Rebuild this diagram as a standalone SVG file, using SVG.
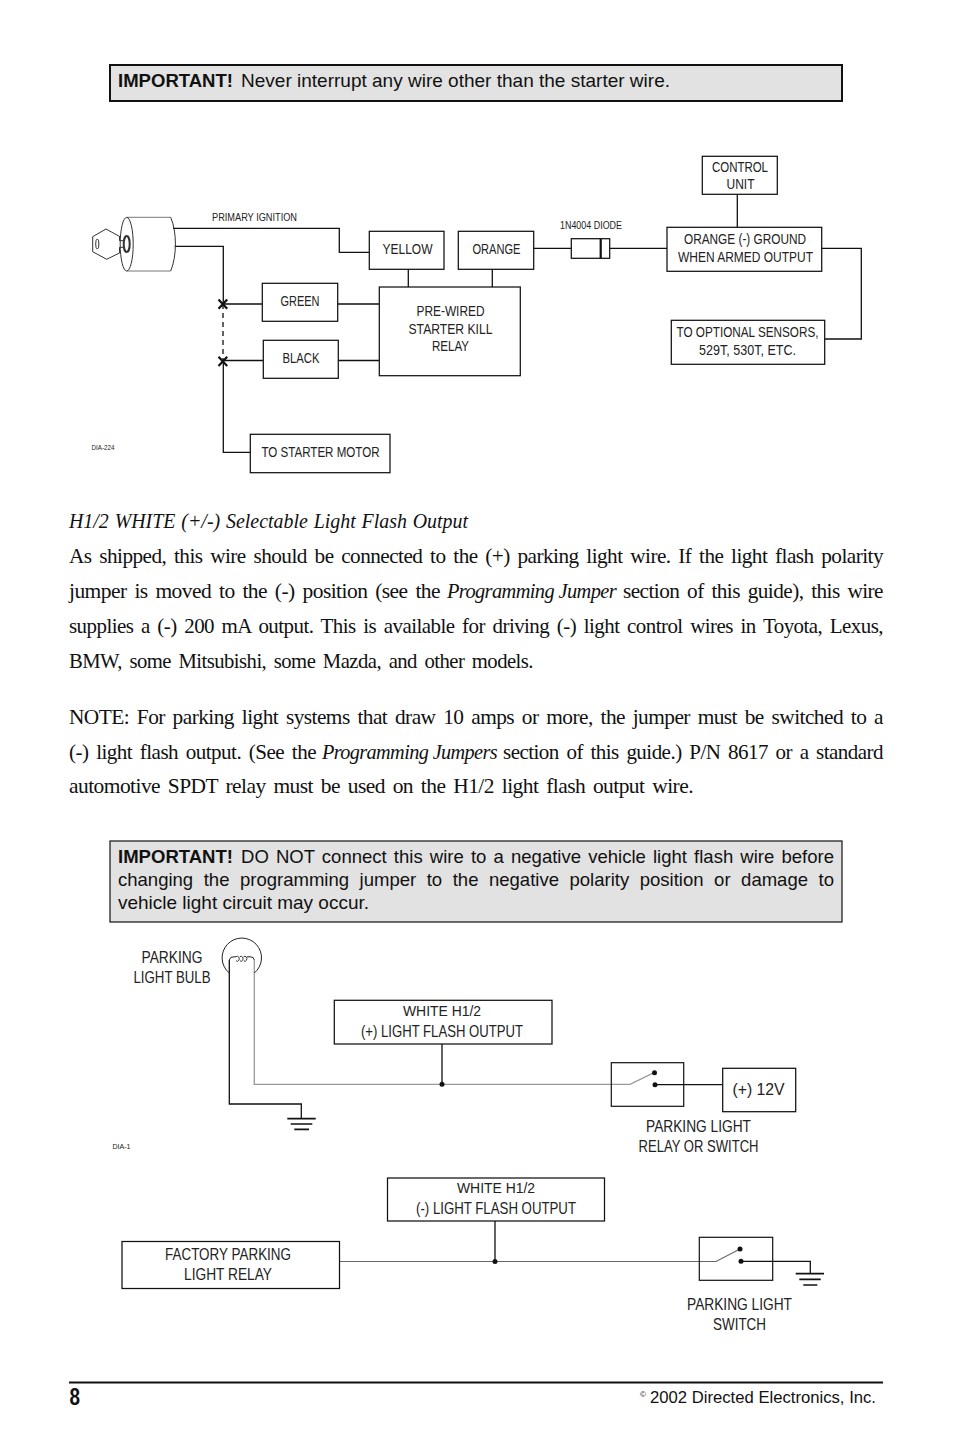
<svg xmlns="http://www.w3.org/2000/svg" width="954" height="1450" viewBox="0 0 954 1450">
<style>
.b{fill:#fff;stroke:#111;stroke-width:1.25}
.w{fill:none;stroke:#111;stroke-width:1.3}
.g{fill:none;stroke:#9a9a9a;stroke-width:1.3}
.g2{fill:none;stroke:#666;stroke-width:1.1}
.t{font-family:"Liberation Sans",Arial,sans-serif;font-size:14.5px;fill:#222;text-anchor:middle}
.l{font-size:16.5px}
.s{font-family:"Liberation Sans",Arial,sans-serif;font-size:10px;fill:#222}
.p{font-family:"Liberation Serif","Times New Roman",serif;font-size:21.5px;fill:#111;letter-spacing:-.55px;word-spacing:3px}
.q{font-family:"Liberation Serif","Times New Roman",serif;font-size:21.5px;fill:#111;font-style:italic;letter-spacing:-.65px}
.i{font-family:"Liberation Sans",Arial,sans-serif;font-size:18.5px;fill:#111}
.m{fill:#e2e2e2;stroke:#111;stroke-width:1.2}
.n{fill:#e2e2e2;stroke:#111;stroke-width:2}
.d{fill:#111}
</style>
<rect width="954" height="1450" fill="#fff"/>
<g id="note-top">
<rect class="n" x="110" y="65" width="732" height="36"/>
<text class="i" x="118" y="87" textLength="115" lengthAdjust="spacingAndGlyphs" font-weight="700">IMPORTANT!</text>
<text class="i" x="241" y="87" textLength="429" lengthAdjust="spacingAndGlyphs">Never interrupt any wire other than the starter wire.</text>
</g>
<g id="connectors">
<path class="w" d="M173 228.3H339.3V252.3H369.3"/>
<path class="w" d="M174.7 246.3H223.3V304"/>
<path class="w" d="M223 304V361.3" stroke-dasharray="5 4"/>
<path class="w" d="M223.3 361.3V452.3H250.3"/>
<path class="w" d="M223.3 304H262.3M337.7 304H379.3M223.3 360.500H263.3M338.3 360.500H379.3"/>
<path class="w" d="M408.3 269.3V287M492.3 269.3V287M533.7 248.3H571.3M609.7 248.3H667M737.3 194.3V227.3"/>
<path class="w" d="M821.7 248.3H861.3V339H824.7"/>
<path d="M218.500 299.500L227.200 308.700M227.200 299.500L218.500 308.700M218.500 356.800L227.200 366M227.200 356.800L218.500 366" fill="none" stroke="#111" stroke-width="2.2"/>
<path class="w" d="M229.3 960V1104H301.3V1118.7"/>
<path d="M287.3 1118.7H315.7M290.7 1124H312.3M294.3 1129.3H309" fill="none" stroke="#111" stroke-width="1.7"/>
<path class="g" d="M254.3 960V1084.3H630L654 1072.7"/>
<path class="w" d="M442 1044V1084.3M655 1084.7H722.7"/>
<circle class="d" cx="442" cy="1084.3" r="2.5"/>
<circle class="d" cx="654.5" cy="1072.7" r="2.5"/>
<circle class="d" cx="655" cy="1084.7" r="2.5"/>
<path class="g2" d="M339.5 1261.5H716L740 1249"/>
<path class="w" d="M495 1221V1261.5M741 1261.3H810.3V1273.7"/>
<path d="M795.7 1273.7H824M799.3 1279.3H820.7M803.3 1285H817.3" fill="none" stroke="#111" stroke-width="1.7"/>
<circle class="d" cx="495" cy="1261.5" r="2.5"/>
<circle class="d" cx="740" cy="1249" r="2.5"/>
<circle class="d" cx="741" cy="1261.3" r="2.5"/>
</g>
<g id="ignition-switch">
<path d="M126.7 217.3H170.7M126.7 271H170.7" fill="none" stroke="#777" stroke-width="1"/>
<path d="M170.7 217.3C177 232 177 256 170.7 271" fill="none" stroke="#333" stroke-width="1"/>
<ellipse cx="126.7" cy="244.2" rx="6.5" ry="26.8" fill="#fff" stroke="#333" stroke-width="1"/>
<path d="M120 236.7L106 229L92.700 236.7V251.7L106.7 259.3L120 252.700M119.500 240.700H126M119.500 247.300H126M119.500 236.700V240.700M119.500 247.300V252.700" fill="none" stroke="#333" stroke-width="1"/>
<ellipse cx="126.7" cy="244" rx="3" ry="8" fill="#fff" stroke="#333" stroke-width="2"/>
<ellipse cx="97.3" cy="244" rx="1.6" ry="5" fill="none" stroke="#333" stroke-width="1"/>
<text class="s" x="212" y="221" textLength="85" lengthAdjust="spacingAndGlyphs">PRIMARY IGNITION</text>
</g>
<g id="yellow"><rect class="b" x="369.3" y="231.3" width="74.7" height="38"/><text class="t" x="407.5" y="253.5" textLength="50" lengthAdjust="spacingAndGlyphs">YELLOW</text></g>
<g id="orange"><rect class="b" x="458.3" y="231.3" width="75.4" height="38"/><text class="t" x="496.5" y="253.5" textLength="48" lengthAdjust="spacingAndGlyphs">ORANGE</text></g>
<g id="green"><rect class="b" x="262.3" y="283.3" width="75.4" height="38"/><text class="t" x="300" y="305.5" textLength="39" lengthAdjust="spacingAndGlyphs">GREEN</text></g>
<g id="black"><rect class="b" x="263.3" y="340.3" width="75" height="38"/><text class="t" x="301" y="363" textLength="37" lengthAdjust="spacingAndGlyphs">BLACK</text></g>
<g id="relay"><rect class="b" x="379.3" y="287" width="141" height="88.7"/>
<text class="t" x="450.5" y="316" textLength="68" lengthAdjust="spacingAndGlyphs">PRE-WIRED</text>
<text class="t" x="450.5" y="333.5" textLength="84" lengthAdjust="spacingAndGlyphs">STARTER KILL</text>
<text class="t" x="450.5" y="351" textLength="37" lengthAdjust="spacingAndGlyphs">RELAY</text></g>
<g id="starter-motor"><rect class="b" x="250.3" y="434.3" width="139.7" height="38.4"/><text class="t" x="320.5" y="457" textLength="118" lengthAdjust="spacingAndGlyphs">TO STARTER MOTOR</text></g>
<g id="diode"><rect class="b" x="571.3" y="238.7" width="38.4" height="19.6"/><path d="M600.7 238.7V258.3" stroke="#111" stroke-width="2.2"/>
<text class="s" x="560" y="229" textLength="62" lengthAdjust="spacingAndGlyphs">1N4004 DIODE</text></g>
<g id="control-unit"><rect class="b" x="702.3" y="156.3" width="75" height="38"/>
<text class="t" x="740" y="172" textLength="56" lengthAdjust="spacingAndGlyphs">CONTROL</text>
<text class="t" x="740.5" y="189" textLength="28" lengthAdjust="spacingAndGlyphs">UNIT</text></g>
<g id="armed-output"><rect class="b" x="667" y="227.3" width="154.7" height="44"/>
<text class="t" x="745" y="244" textLength="122" lengthAdjust="spacingAndGlyphs">ORANGE (-) GROUND</text>
<text class="t" x="745.5" y="262" textLength="135" lengthAdjust="spacingAndGlyphs">WHEN ARMED OUTPUT</text></g>
<g id="sensors"><rect class="b" x="671.3" y="320.3" width="153.4" height="44"/>
<text class="t" x="747.5" y="337" textLength="142" lengthAdjust="spacingAndGlyphs">TO OPTIONAL SENSORS,</text>
<text class="t" x="747.5" y="355" textLength="97" lengthAdjust="spacingAndGlyphs">529T, 530T, ETC.</text></g>
<text class="s" x="91.5" y="450" textLength="23" lengthAdjust="spacingAndGlyphs" style="font-size:8px">DIA-224</text>
<g id="body">
<text class="q" x="69" y="528" textLength="399" lengthAdjust="spacingAndGlyphs" style="letter-spacing:0;word-spacing:1px">H1/2 WHITE (+/-) Selectable Light Flash Output</text>
<text class="p" x="69" y="563" textLength="814" lengthAdjust="spacingAndGlyphs">As shipped, this wire should be connected to the (+) parking light wire. If the light flash polarity</text>
<text class="p" x="69" y="598" textLength="371" lengthAdjust="spacingAndGlyphs">jumper is moved to the (-) position (see the</text>
<text class="q" x="447" y="598" textLength="169" lengthAdjust="spacingAndGlyphs">Programming Jumper</text>
<text class="p" x="623" y="598" textLength="260" lengthAdjust="spacingAndGlyphs">section of this guide), this wire</text>
<text class="p" x="69" y="633" textLength="814" lengthAdjust="spacingAndGlyphs">supplies a (-) 200 mA output. This is available for driving (-) light control wires in Toyota, Lexus,</text>
<text class="p" x="69" y="668" textLength="464" lengthAdjust="spacingAndGlyphs">BMW, some Mitsubishi, some Mazda, and other models.</text>
<text class="p" x="69" y="724" textLength="814" lengthAdjust="spacingAndGlyphs">NOTE: For parking light systems that draw 10 amps or more, the jumper must be switched to a</text>
<text class="p" x="69" y="759" textLength="247" lengthAdjust="spacingAndGlyphs">(-) light flash output. (See the</text>
<text class="q" x="322" y="759" textLength="175" lengthAdjust="spacingAndGlyphs">Programming Jumpers</text>
<text class="p" x="503" y="759" textLength="380" lengthAdjust="spacingAndGlyphs">section of this guide.) P/N 8617 or a standard</text>
<text class="p" x="69" y="793" textLength="624" lengthAdjust="spacingAndGlyphs">automotive SPDT relay must be used on the H1/2 light flash output wire.</text>
</g>
<g id="note-mid">
<rect class="m" x="110" y="841" width="732" height="81"/>
<text class="i" x="118" y="863" textLength="115" lengthAdjust="spacingAndGlyphs" font-weight="700">IMPORTANT!</text>
<text class="i" x="241" y="863" textLength="593" lengthAdjust="spacingAndGlyphs" word-spacing="2">DO NOT connect this wire to a negative vehicle light flash wire before</text>
<text class="i" x="118" y="886" textLength="716" lengthAdjust="spacingAndGlyphs" word-spacing="5.4">changing the programming jumper to the negative polarity position or damage to</text>
<text class="i" x="118" y="909" textLength="251" lengthAdjust="spacingAndGlyphs">vehicle light circuit may occur.</text>
</g>
<g id="bulb">
<path d="M229.3 973A19.7 19.7 0 1 1 254.3 973" fill="none" stroke="#222" stroke-width="1"/>
<path d="M229.3 960Q230 956.5 234 956.8H236M247 956.8H250Q254 956.5 254.3 960" fill="none" stroke="#222" stroke-width="1"/>
<path d="M236 956.8a2 2.500 0 1 1 .1 4M239.800 956.800a2 2.500 0 1 1 .1 4M243.600 956.800a2 2.500 0 1 1 .1 4" fill="none" stroke="#222" stroke-width=".9"/>
<text class="t l" x="172" y="963" textLength="61" lengthAdjust="spacingAndGlyphs">PARKING</text>
<text class="t l" x="172" y="983" textLength="77" lengthAdjust="spacingAndGlyphs">LIGHT BULB</text>
</g>
<g id="white-plus"><rect class="b" x="334.3" y="1000.3" width="217.7" height="43.7"/>
<text class="t" x="442" y="1016" textLength="78" lengthAdjust="spacingAndGlyphs" style="font-size:15px">WHITE H1/2</text>
<text class="t l" x="442" y="1037" textLength="162" lengthAdjust="spacingAndGlyphs">(+) LIGHT FLASH OUTPUT</text></g>
<g id="relay-switch"><rect x="611.3" y="1062.7" width="72.4" height="43.6" fill="none" stroke="#111" stroke-width="1.2"/>
<text class="t l" x="698.500" y="1132" textLength="105" lengthAdjust="spacingAndGlyphs">PARKING LIGHT</text>
<text class="t l" x="698.500" y="1152" textLength="120" lengthAdjust="spacingAndGlyphs">RELAY OR SWITCH</text></g>
<g id="plus-12v"><rect class="b" x="722.7" y="1068.300" width="73" height="43.4"/>
<text class="t l" x="758.500" y="1095" textLength="52" lengthAdjust="spacingAndGlyphs">(+) 12V</text></g>
<text class="s" x="112.500" y="1149" textLength="18" lengthAdjust="spacingAndGlyphs" style="font-size:8px">DIA-1</text>
<g id="white-minus"><rect class="b" x="387.500" y="1178" width="217" height="43"/>
<text class="t" x="496" y="1193" textLength="78" lengthAdjust="spacingAndGlyphs" style="font-size:15px">WHITE H1/2</text>
<text class="t l" x="496" y="1214" textLength="160" lengthAdjust="spacingAndGlyphs">(-) LIGHT FLASH OUTPUT</text></g>
<g id="factory-relay"><rect class="b" x="122" y="1241.500" width="217.500" height="47"/>
<text class="t l" x="228" y="1260" textLength="126" lengthAdjust="spacingAndGlyphs">FACTORY PARKING</text>
<text class="t l" x="228" y="1280" textLength="88" lengthAdjust="spacingAndGlyphs">LIGHT RELAY</text></g>
<g id="light-switch"><rect x="699.300" y="1237.300" width="73.400" height="43" fill="none" stroke="#111" stroke-width="1.2"/>
<text class="t l" x="739.500" y="1310" textLength="105" lengthAdjust="spacingAndGlyphs">PARKING LIGHT</text>
<text class="t l" x="739.500" y="1330" textLength="53" lengthAdjust="spacingAndGlyphs">SWITCH</text></g>
<g id="footer">
<path d="M69 1382.500H883" stroke="#111" stroke-width="2"/>
<text x="69.500" y="1405" font-family="Liberation Sans,Arial,sans-serif" font-size="24" font-weight="700" fill="#111" textLength="10.500" lengthAdjust="spacingAndGlyphs">8</text>
<text x="640" y="1397" font-family="Liberation Sans,Arial,sans-serif" font-size="8" fill="#111">©</text>
<text x="650" y="1403" font-family="Liberation Sans,Arial,sans-serif" font-size="16.5" fill="#111" textLength="226" lengthAdjust="spacingAndGlyphs">2002 Directed Electronics, Inc.</text>
</g>
</svg>
